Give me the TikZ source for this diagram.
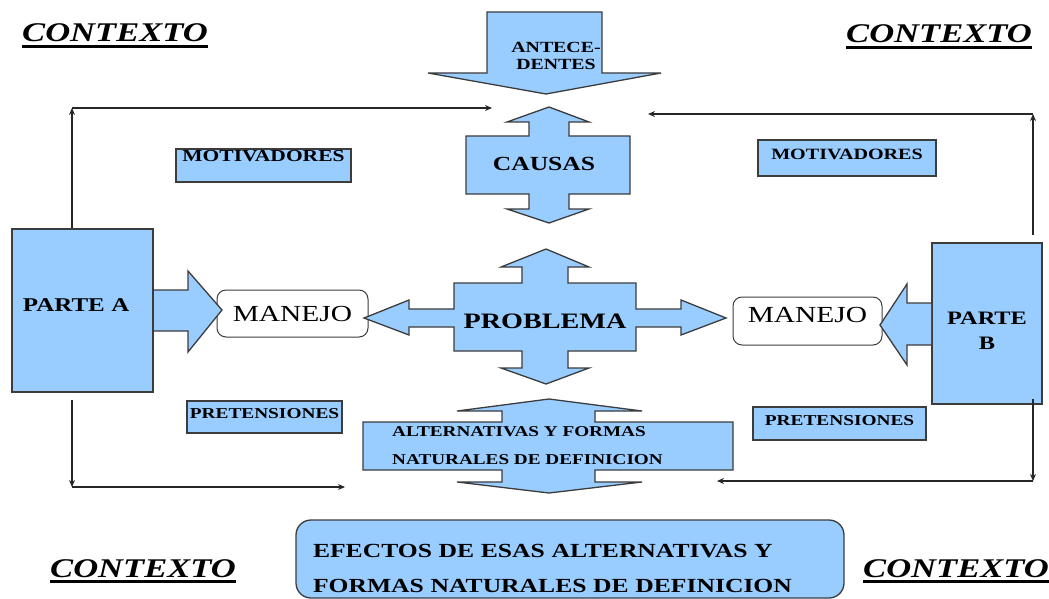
\documentclass[tikz,border=0pt]{standalone}
\usepackage{fontspec}
\setmainfont{Liberation Serif}[FakeStretch=1.28]
\usetikzlibrary{arrows.meta}
\definecolor{lb}{HTML}{99CCFF}
\definecolor{edgec}{HTML}{3C3C3C}
\newcommand\fs[2]{\fontsize{#1}{#2}\selectfont}
\begin{document}
\begin{tikzpicture}[x=1pt,y=-1pt,
  blk/.style={fill=lb,draw=edgec,line width=1.3pt,line join=miter},
  blkfill/.style={fill=lb},
  blkline/.style={draw=edgec,line width=1.3pt},
  box/.style={fill=lb,draw=edgec,line width=1.3pt,inner sep=0pt},
  wbox/.style={fill=white,draw=edgec,line width=1pt,rounded corners=9pt,inner sep=0pt},
  ctx/.style={anchor=base west,inner sep=0pt,font=\fs{27}{30}\bfseries\itshape},
  ulin/.style={line width=2.8pt,draw=black},
  conn/.style={draw=black!85,line width=1.9pt,-{Stealth[length=7pt,width=6pt]}},
  lbl/.style={inner sep=0pt,text=black}]
\useasboundingbox (0,0) rectangle (1049,599);

% CONTEXTO labels
\node[ctx] (c1) at (22,42) {CONTEXTO};
\node[ctx] (c2) at (846,43) {CONTEXTO};
\node[ctx] (c3) at (50,577) {CONTEXTO};
\node[ctx] (c4) at (863,577) {CONTEXTO};
\foreach \c in {c1,c2,c3,c4}
  \draw[ulin] ([yshift=-4.5pt]\c.base west) -- ([yshift=-4.5pt]\c.base east);

% ANTECEDENTES arrow
\draw[blk] (487,12) -- (602,12) -- (602,73) -- (661,73) -- (546,94) -- (428,73) -- (487,73) -- cycle;
\node[lbl,align=center,font=\fs{15.5}{17}\bfseries] (antec) at (556,55.5) {ANTECE-\\DENTES};

% CAUSAS
\draw[blk] (549,107) -- (589,122) -- (569,122) -- (569,136) -- (630,136) -- (630,194) -- (569,194) -- (569,209) -- (589,209) -- (549,223) -- (507,209) -- (529,209) -- (529,194) -- (466,194) -- (466,136) -- (529,136) -- (529,122) -- (507,122) -- cycle;
\node[lbl,font=\fs{20}{22}\bfseries] (causas) at (544,163.5) {CAUSAS};

% MANEJO boxes
\node[wbox,minimum width=151pt,minimum height=47pt,font=\fs{23}{25}] (manA) at (292.5,313.5) {MANEJO};
\node[wbox,minimum width=149pt,minimum height=48pt,font=\fs{23}{25}] (manB) at (807.5,321) {\raisebox{6pt}[\height][\depth]{MANEJO}};

% PROBLEMA
\draw[blk] (546,249) -- (589,267) -- (568,267) -- (568,283) -- (636,283) -- (636,309) -- (681,309) -- (681,300) -- (726,318) -- (681,335) -- (681,327) -- (636,327) -- (636,351) -- (568,351) -- (568,368) -- (589,368) -- (546,384) -- (501,368) -- (522,368) -- (522,351) -- (454,351) -- (454,327) -- (409,327) -- (409,335) -- (364,318) -- (409,300) -- (409,309) -- (454,309) -- (454,283) -- (522,283) -- (522,267) -- (501,267) -- cycle;
\node[lbl,font=\fs{22}{24}\bfseries] (prob) at (545,321) {PROBLEMA};

% PARTE A / PARTE B
\node[box,minimum width=141pt,minimum height=163pt,text width=119pt,align=left,font=\fs{19.5}{22}\bfseries] (parteA) at (82.5,310.5) {\raisebox{5.5pt}[\height][\depth]{PARTE A}};
\node[box,minimum width=110pt,minimum height=161pt,font=\fs{19}{25}\bfseries] (parteB) at (987,323.5) {\raisebox{-8pt}[\height][\depth]{\begin{tabular}{@{}c@{}}PARTE\\B\end{tabular}}};

% block arrows into MANEJO
\fill[blkfill] (154,290) -- (188,290) -- (188,271) -- (222,310) -- (188,352) -- (188,331) -- (154,331) -- cycle;
\draw[blkline] (153,290) -- (188,290) -- (188,271) -- (222,310) -- (188,352) -- (188,331) -- (153,331);
\fill[blkfill] (931,303) -- (907,303) -- (907,284) -- (880,325) -- (907,365) -- (907,345) -- (931,345) -- cycle;
\draw[blkline] (932,303) -- (907,303) -- (907,284) -- (880,325) -- (907,365) -- (907,345) -- (932,345);

% MOTIVADORES / PRETENSIONES
\node[box,minimum width=175pt,minimum height=33pt,font=\fs{16.8}{18}\bfseries] (motA) at (263.5,165.5) {\raisebox{9pt}[\height][\depth]{MOTIVADORES}};
\node[box,minimum width=178pt,minimum height=36pt,font=\fs{15.7}{17}\bfseries] (motB) at (847,158) {\raisebox{4pt}[\height][\depth]{MOTIVADORES}};
\node[box,minimum width=155pt,minimum height=32pt,font=\fs{15.1}{17}\bfseries] (preA) at (264.5,417) {\raisebox{3.5pt}[\height][\depth]{PRETENSIONES}};
\node[box,minimum width=173pt,minimum height=33pt,font=\fs{15.1}{17}\bfseries] (preB) at (839.5,423.5) {\raisebox{3pt}[\height][\depth]{PRETENSIONES}};

% ALTERNATIVAS
\draw[blk] (549,399) -- (642,411) -- (595,411) -- (595,422) -- (733,422) -- (733,470) -- (595,470) -- (595,482) -- (642,482) -- (549,493) -- (457,482) -- (502,482) -- (502,470) -- (363,470) -- (363,422) -- (502,422) -- (502,411) -- (457,411) -- cycle;
\node[lbl,anchor=west,align=left,font=\fs{15}{28}\bfseries] (alt) at (392,445.5) {ALTERNATIVAS Y FORMAS\\NATURALES DE DEFINICION};

% EFECTOS
\node[box,rounded corners=15pt,minimum width=548pt,minimum height=78pt,text width=514pt,align=left,font=\fs{20}{35}\bfseries] (efectos) at (570,559) {\raisebox{-8.5pt}[\height][\depth]{\begin{tabular}{@{}l@{}}EFECTOS DE ESAS ALTERNATIVAS Y\\FORMAS NATURALES DE DEFINICION\end{tabular}}};

% connectors
\coordinate (tl) at (72,108);
\coordinate (tlend) at (492,108);
\coordinate (tr) at (1033,114);
\coordinate (trend) at (648,114);
\coordinate (bl) at (72,487);
\coordinate (blend) at (345,487);
\coordinate (br) at (1033,481);
\coordinate (brend) at (717,481);
\draw[conn] (parteA.north -| tl) -- (tl);
\draw[conn] (tl) -- (tlend);
\draw[conn,shorten <=7pt] (parteB.north -| tr) -- (tr);
\draw[conn] (tr) -- (trend);
\draw[conn,shorten <=7pt] (parteA.south -| bl) -- (bl);
\draw[conn] (bl) -- (blend);
\draw[conn,shorten <=-6pt] (parteB.south -| br) -- (br);
\draw[conn] (br) -- (brend);
\end{tikzpicture}
\end{document}
